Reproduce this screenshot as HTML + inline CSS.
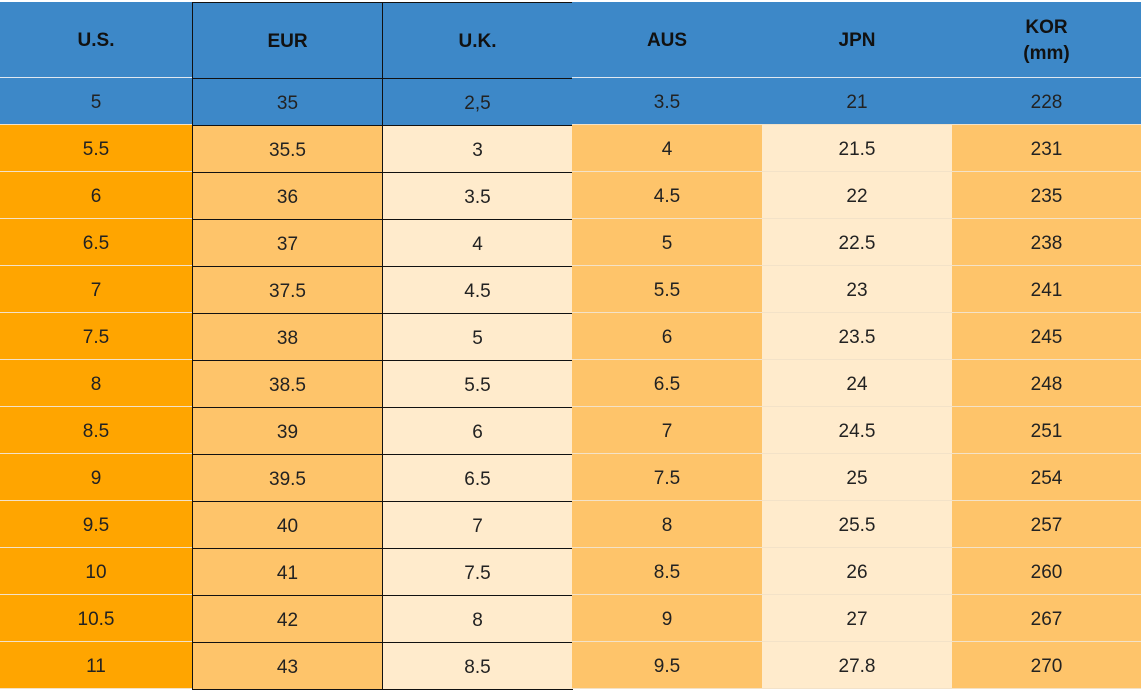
<!DOCTYPE html>
<html><head><style>
body{margin:0;width:1141px;height:692px;background:#fff;position:relative;font-family:"Liberation Sans",Arial,sans-serif;overflow:hidden}
.c{position:absolute;box-sizing:border-box;display:flex;align-items:center;justify-content:center;text-align:center;font-size:19px;color:#222;border-bottom:1px solid #f3e2c8;padding-top:3px}
.h{font-weight:bold;font-size:19px;color:#111;border-bottom:1px solid #e0e8f0;line-height:26px}
.b{border:1px solid #111}
</style></head><body>
<div id="t"></div>
<script>
var xs=[0,192,382,572,762,952,1141];
var heads=["U.S.","EUR","U.K.","AUS","JPN","KOR<br>(mm)"];
var rows=[["5","35","2,5","3.5","21","228"],["5.5","35.5","3","4","21.5","231"],["6","36","3.5","4.5","22","235"],["6.5","37","4","5","22.5","238"],["7","37.5","4.5","5.5","23","241"],["7.5","38","5","6","23.5","245"],["8","38.5","5.5","6.5","24","248"],["8.5","39","6","7","24.5","251"],["9","39.5","6.5","7.5","25","254"],["9.5","40","7","8","25.5","257"],["10","41","7.5","8.5","26","260"],["10.5","42","8","9","27","267"],["11","43","8.5","9.5","27.8","270"]];
var cols=["#ffa500","#fec46a","#ffebcc","#fec46a","#ffebcc","#fec46a"];
var h="";
function cell(x0,x1,y0,y1,bg,txt,cls){h+='<div class="c '+cls+'" style="left:'+x0+'px;width:'+(x1-x0+(cls.indexOf('b')>=0?1:0))+'px;top:'+y0+'px;height:'+(y1-y0+(cls.indexOf('b')>=0?1:0))+'px;background:'+bg+'">'+txt+'</div>';}
for(var i=0;i<6;i++){cell(xs[i],xs[i+1],2,78,"#3d88c8",heads[i],"h"+((i==1||i==2)?" b":""));}
for(var r=0;r<13;r++){var y0=r==0?78:125+(r-1)*47,y1=r==0?125:y0+47;
for(var i=0;i<6;i++){cell(xs[i],xs[i+1],y0,y1,r==0?"#3d88c8":cols[i],rows[r][i],(i==1||i==2)?"b":"");}}
document.getElementById("t").innerHTML=h;
</script>
</body></html>
